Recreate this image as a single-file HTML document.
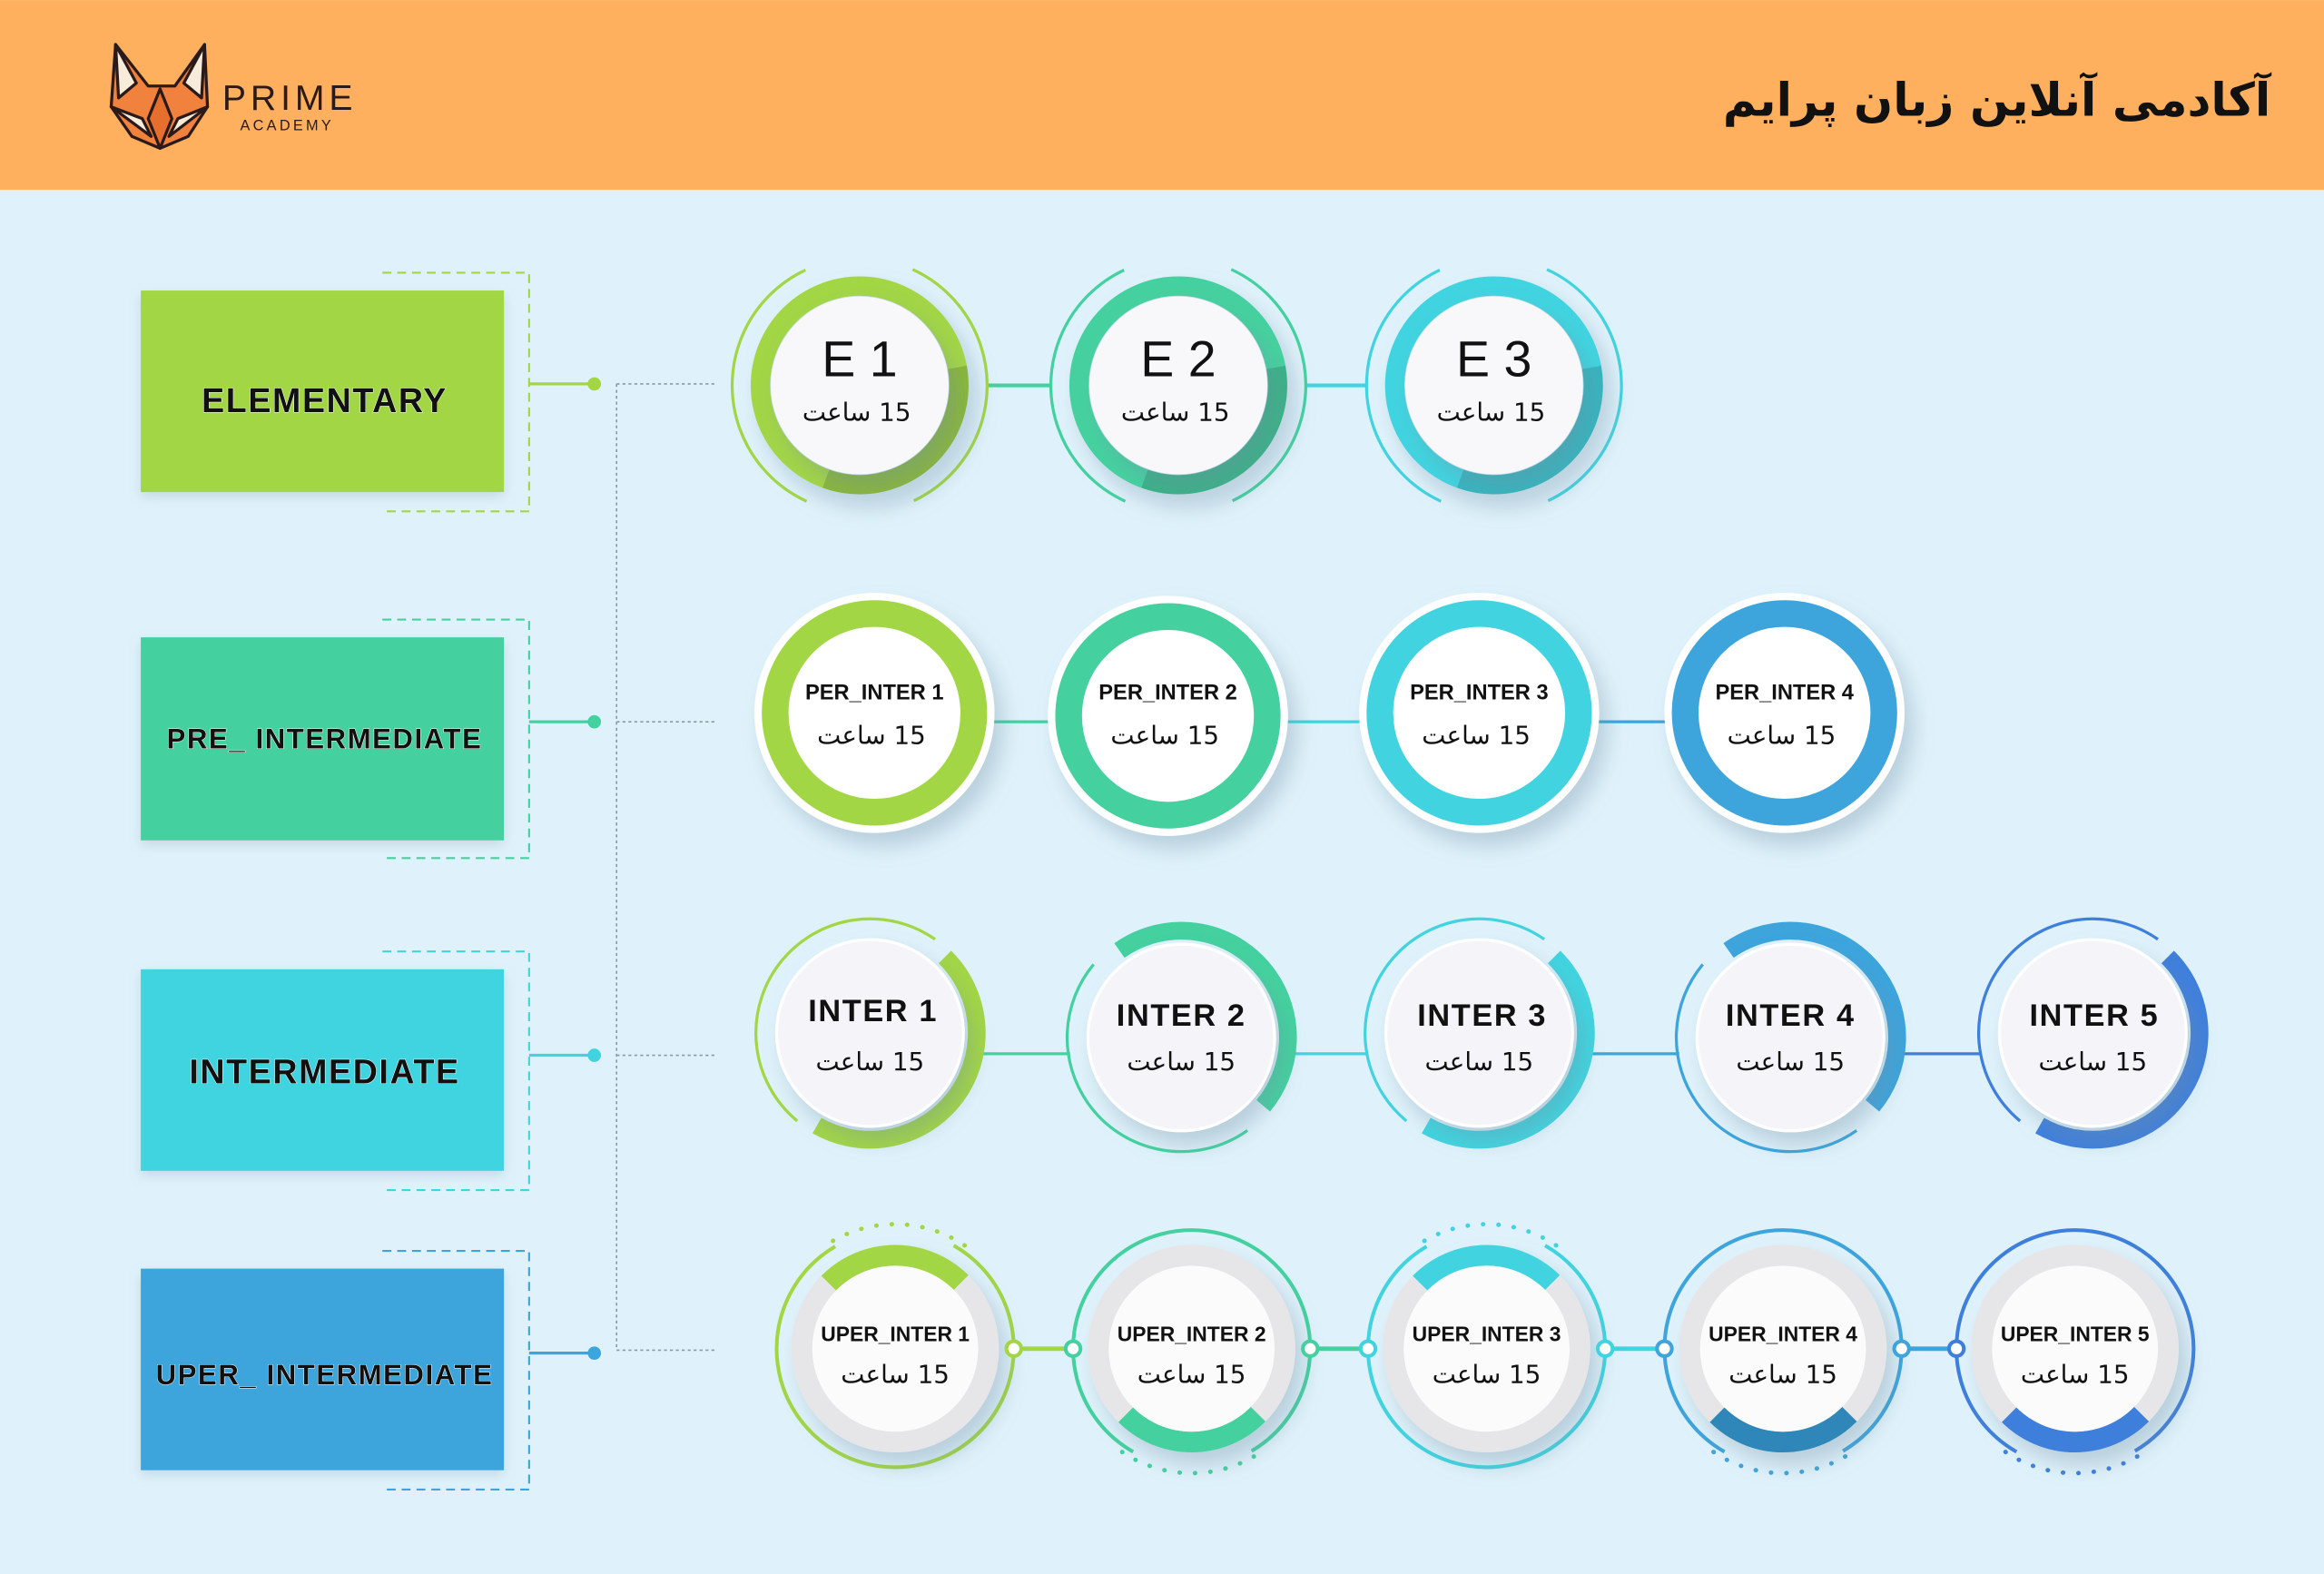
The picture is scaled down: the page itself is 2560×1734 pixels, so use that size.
<!DOCTYPE html>
<html><head><meta charset="utf-8"><style>
html,body{margin:0;padding:0;background:#dff2fb;}
svg{display:block}
text{font-family:"Liberation Sans","DejaVu Sans",sans-serif;fill:#111}
.h{font-family:"DejaVu Sans","Liberation Sans",sans-serif;font-size:17px;text-anchor:middle}
.t{font-weight:bold;text-anchor:middle}
.bx{font-weight:bold;font-size:23px;text-anchor:middle;letter-spacing:1px;stroke:#fff;stroke-width:.6px;paint-order:stroke}
</style></head><body>
<svg width="2560" height="1734" viewBox="0 0 1568 1062" xmlns="http://www.w3.org/2000/svg">
<defs>
<filter id="sh" x="-40%" y="-40%" width="180%" height="180%"><feDropShadow dx="6" dy="9" stdDeviation="7" flood-color="#6d8ea3" flood-opacity="0.35"/></filter>
<filter id="sb" x="-10%" y="-10%" width="120%" height="130%"><feDropShadow dx="0" dy="3" stdDeviation="4" flood-color="#6d8ea3" flood-opacity="0.25"/></filter>
</defs>
<rect width="1568" height="1062" fill="#dff2fb"/>
<rect width="1568" height="128" fill="#ffb05e"/>
<g stroke="#2a1a1a" stroke-width="2" stroke-linejoin="round">
<polygon points="78,30 100,58 118,58 138,30 140,72 127,92 108,100 89,92 75,72" fill="#f0823e"/>
<polygon points="78,30 92,56 80,66" fill="#f6ecd9"/>
<polygon points="138,30 124,56 136,66" fill="#f6ecd9"/>
<polygon points="75,72 96,80 102,92" fill="#f6ecd9"/>
<polygon points="140,72 120,80 114,92" fill="#f6ecd9"/>
<polygon points="100,80 108,100 116,80 108,60" fill="#e76f2e"/>
</g>
<text x="150" y="74" style="font-size:24px;letter-spacing:3px;fill:#2a1a1a">PRIME</text>
<text x="162" y="88" style="font-size:10px;letter-spacing:2px;fill:#2a1a1a">ACADEMY</text>
<text x="1532" y="78" style="font-family:'DejaVu Sans',sans-serif;font-weight:bold;font-size:31px;text-anchor:end;fill:#111">آکادمی آنلاین زبان پرایم</text>

<g filter="url(#sb)">
<rect x="95" y="196" width="245" height="136" fill="#a2d645"/>
<rect x="95" y="430" width="245" height="137" fill="#44d19f"/>
<rect x="95" y="654" width="245" height="136" fill="#41d4e0"/>
<rect x="95" y="856" width="245" height="136" fill="#3da4dc"/>
</g>
<text class="bx" x="219" y="278">ELEMENTARY</text>
<text class="bx" x="219" y="505" style="font-size:19px">PRE_ INTERMEDIATE</text>
<text class="bx" x="219" y="731">INTERMEDIATE</text>
<text class="bx" x="219" y="934" style="font-size:19px">UPER_ INTERMEDIATE</text>
<g fill="none" stroke-width="1.3" stroke-dasharray="6 4">
<path d="M258 184H357V345H258" stroke="#a2d645"/>
<path d="M258 418H357V579H258" stroke="#44d19f"/>
<path d="M258 642H357V803H258" stroke="#41d4e0"/>
<path d="M258 844H357V1005H258" stroke="#3da4dc"/>
</g>
<g stroke-width="2">
<line x1="357" y1="259" x2="401" y2="259" stroke="#a2d645"/><circle cx="401" cy="259" r="4.5" fill="#a2d645"/>
<line x1="357" y1="487" x2="401" y2="487" stroke="#44d19f"/><circle cx="401" cy="487" r="4.5" fill="#44d19f"/>
<line x1="357" y1="712" x2="401" y2="712" stroke="#41d4e0"/><circle cx="401" cy="712" r="4.5" fill="#41d4e0"/>
<line x1="357" y1="913" x2="401" y2="913" stroke="#3da4dc"/><circle cx="401" cy="913" r="4.5" fill="#3da4dc"/>
</g>
<g stroke="#8a9aa6" stroke-width="1" stroke-dasharray="2 2" fill="none">
<path d="M416 259V911"/><path d="M416 259H483M416 487H483M416 712H483M416 911H483"/>
</g>

<g stroke-width="2.5"><line x1="667" y1="260" x2="709" y2="260" stroke="#44d19f"/><line x1="881" y1="260" x2="922" y2="260" stroke="#41d4e0"/></g>
<g fill="none">
<g stroke="#a2d645"><circle cx="580" cy="260" r="86" pathLength="360" stroke-width="2" stroke-dasharray="130 230" transform="rotate(115 580 260)"/><circle cx="580" cy="260" r="86" pathLength="360" stroke-width="2" stroke-dasharray="130 230" transform="rotate(295 580 260)"/><circle cx="580" cy="260" r="67" stroke-width="13" filter="url(#sh)"/></g>
<circle cx="580" cy="260" r="67" stroke="#000" stroke-opacity=".15" stroke-width="13" pathLength="360" stroke-dasharray="120 240" transform="rotate(-10 580 260)"/>
<g stroke="#44d19f"><circle cx="795" cy="260" r="86" pathLength="360" stroke-width="2" stroke-dasharray="130 230" transform="rotate(115 795 260)"/><circle cx="795" cy="260" r="86" pathLength="360" stroke-width="2" stroke-dasharray="130 230" transform="rotate(295 795 260)"/><circle cx="795" cy="260" r="67" stroke-width="13" filter="url(#sh)"/></g>
<circle cx="795" cy="260" r="67" stroke="#000" stroke-opacity=".15" stroke-width="13" pathLength="360" stroke-dasharray="120 240" transform="rotate(-10 795 260)"/>
<g stroke="#41d4e0"><circle cx="1008" cy="260" r="86" pathLength="360" stroke-width="2" stroke-dasharray="130 230" transform="rotate(115 1008 260)"/><circle cx="1008" cy="260" r="86" pathLength="360" stroke-width="2" stroke-dasharray="130 230" transform="rotate(295 1008 260)"/><circle cx="1008" cy="260" r="67" stroke-width="13" filter="url(#sh)"/></g>
<circle cx="1008" cy="260" r="67" stroke="#000" stroke-opacity=".15" stroke-width="13" pathLength="360" stroke-dasharray="120 240" transform="rotate(-10 1008 260)"/>
</g>
<g fill="#f8f8fa" filter="url(#sh)"><circle cx="580" cy="260" r="60"/><circle cx="795" cy="260" r="60"/><circle cx="1008" cy="260" r="60"/></g>
<text class="t" x="580" y="254" style="font-size:34px;font-weight:normal">E 1</text><text class="t" x="795" y="254" style="font-size:34px;font-weight:normal">E 2</text><text class="t" x="1008" y="254" style="font-size:34px;font-weight:normal">E 3</text>
<text class="h" x="578" y="284">ساعت &#x200E;15</text><text class="h" x="793" y="284">ساعت &#x200E;15</text><text class="h" x="1006" y="284">ساعت &#x200E;15</text>

<g stroke-width="2"><line x1="670" y1="487" x2="707" y2="487" stroke="#44d19f"/><line x1="868" y1="487" x2="918" y2="487" stroke="#41d4e0"/><line x1="1078" y1="487" x2="1124" y2="487" stroke="#3da4dc"/></g>
<g fill="#fff" filter="url(#sh)"><circle cx="590" cy="481" r="81"/><circle cx="788" cy="483" r="81"/><circle cx="998" cy="481" r="81"/><circle cx="1204" cy="481" r="81"/></g>
<g fill="#fff" stroke-width="18"><circle cx="590" cy="481" r="67" stroke="#a2d645"/><circle cx="788" cy="483" r="67" stroke="#44d19f"/><circle cx="998" cy="481" r="67" stroke="#41d4e0"/><circle cx="1204" cy="481" r="67" stroke="#3da4dc"/></g>
<text class="t" x="590" y="472" style="font-size:14.5px">PER_INTER 1</text><text class="t" x="788" y="472" style="font-size:14.5px">PER_INTER 2</text><text class="t" x="998" y="472" style="font-size:14.5px">PER_INTER 3</text><text class="t" x="1204" y="472" style="font-size:14.5px">PER_INTER 4</text>
<text class="h" x="588" y="502">ساعت &#x200E;15</text><text class="h" x="786" y="502">ساعت &#x200E;15</text><text class="h" x="996" y="502">ساعت &#x200E;15</text><text class="h" x="1202" y="502">ساعت &#x200E;15</text>

<g stroke-width="2"><line x1="660" y1="711" x2="722" y2="711" stroke="#44d19f"/><line x1="870" y1="711" x2="923" y2="711" stroke="#41d4e0"/><line x1="1072" y1="711" x2="1133" y2="711" stroke="#3da4dc"/><line x1="1282" y1="711" x2="1337" y2="711" stroke="#3f7fdc"/></g>
<g fill="none">
<circle cx="587" cy="697" r="72" stroke="#a2d645" stroke-width="12" pathLength="360" stroke-dasharray="165 195" transform="rotate(315 587 697)"/>
<circle cx="587" cy="697" r="77" stroke="#a2d645" stroke-width="2" pathLength="360" stroke-dasharray="175 185" transform="rotate(130 587 697)"/>
<circle cx="797" cy="700" r="72" stroke="#44d19f" stroke-width="12" pathLength="360" stroke-dasharray="165 195" transform="rotate(235 797 700)"/>
<circle cx="797" cy="700" r="77" stroke="#44d19f" stroke-width="2" pathLength="360" stroke-dasharray="165 195" transform="rotate(55 797 700)"/>
<circle cx="998" cy="697" r="72" stroke="#41d4e0" stroke-width="12" pathLength="360" stroke-dasharray="165 195" transform="rotate(315 998 697)"/>
<circle cx="998" cy="697" r="77" stroke="#41d4e0" stroke-width="2" pathLength="360" stroke-dasharray="175 185" transform="rotate(130 998 697)"/>
<circle cx="1208" cy="700" r="72" stroke="#3da4dc" stroke-width="12" pathLength="360" stroke-dasharray="165 195" transform="rotate(235 1208 700)"/>
<circle cx="1208" cy="700" r="77" stroke="#3da4dc" stroke-width="2" pathLength="360" stroke-dasharray="165 195" transform="rotate(55 1208 700)"/>
<circle cx="1412" cy="697" r="72" stroke="#3f7fdc" stroke-width="12" pathLength="360" stroke-dasharray="165 195" transform="rotate(315 1412 697)"/>
<circle cx="1412" cy="697" r="77" stroke="#3f7fdc" stroke-width="2" pathLength="360" stroke-dasharray="175 185" transform="rotate(130 1412 697)"/>
</g>
<g fill="#f4f4f9" stroke="#fff" stroke-width="2" filter="url(#sh)"><circle cx="587" cy="697" r="63"/><circle cx="797" cy="700" r="63"/><circle cx="998" cy="697" r="63"/><circle cx="1208" cy="700" r="63"/><circle cx="1412" cy="697" r="63"/></g>
<text class="t" x="589" y="689" style="font-size:21px;letter-spacing:1px">INTER 1</text><text class="t" x="797" y="692" style="font-size:21px;letter-spacing:1px">INTER 2</text><text class="t" x="1000" y="692" style="font-size:21px;letter-spacing:1px">INTER 3</text><text class="t" x="1208" y="692" style="font-size:21px;letter-spacing:1px">INTER 4</text><text class="t" x="1413" y="692" style="font-size:21px;letter-spacing:1px">INTER 5</text>
<text class="h" x="587" y="722">ساعت &#x200E;15</text><text class="h" x="797" y="722">ساعت &#x200E;15</text><text class="h" x="998" y="722">ساعت &#x200E;15</text><text class="h" x="1208" y="722">ساعت &#x200E;15</text><text class="h" x="1412" y="722">ساعت &#x200E;15</text>

<g stroke-width="3"><line x1="684" y1="910" x2="724" y2="910" stroke="#a2d645"/><line x1="884" y1="910" x2="923" y2="910" stroke="#44d19f"/><line x1="1083" y1="910" x2="1123" y2="910" stroke="#41d4e0"/><line x1="1283" y1="910" x2="1320" y2="910" stroke="#3da4dc"/></g>
<g fill="none">
<circle cx="604" cy="910" r="80" stroke="#a2d645" stroke-width="2.5" pathLength="360" stroke-dasharray="300 60" transform="rotate(300 604 910)"/>
<circle cx="604" cy="910" r="84" stroke="#a2d645" stroke-width="3" stroke-linecap="round" pathLength="360" transform="rotate(240 604 910)" style="stroke-dasharray:0.1 7 0.1 7 0.1 7 0.1 7 0.1 7 0.1 7 0.1 7 0.1 7 0.1 7 0.1 300"/>
<circle cx="804" cy="910" r="80" stroke="#44d19f" stroke-width="2.5" pathLength="360" stroke-dasharray="300 60" transform="rotate(120 804 910)"/>
<circle cx="804" cy="910" r="84" stroke="#44d19f" stroke-width="3" stroke-linecap="round" pathLength="360" transform="rotate(60 804 910)" style="stroke-dasharray:0.1 7 0.1 7 0.1 7 0.1 7 0.1 7 0.1 7 0.1 7 0.1 7 0.1 7 0.1 300"/>
<circle cx="1003" cy="910" r="80" stroke="#41d4e0" stroke-width="2.5" pathLength="360" stroke-dasharray="300 60" transform="rotate(300 1003 910)"/>
<circle cx="1003" cy="910" r="84" stroke="#41d4e0" stroke-width="3" stroke-linecap="round" pathLength="360" transform="rotate(240 1003 910)" style="stroke-dasharray:0.1 7 0.1 7 0.1 7 0.1 7 0.1 7 0.1 7 0.1 7 0.1 7 0.1 7 0.1 300"/>
<circle cx="1203" cy="910" r="80" stroke="#3da4dc" stroke-width="2.5" pathLength="360" stroke-dasharray="300 60" transform="rotate(120 1203 910)"/>
<circle cx="1203" cy="910" r="84" stroke="#3da4dc" stroke-width="3" stroke-linecap="round" pathLength="360" transform="rotate(60 1203 910)" style="stroke-dasharray:0.1 7 0.1 7 0.1 7 0.1 7 0.1 7 0.1 7 0.1 7 0.1 7 0.1 7 0.1 300"/>
<circle cx="1400" cy="910" r="80" stroke="#3f7fdc" stroke-width="2.5" pathLength="360" stroke-dasharray="300 60" transform="rotate(120 1400 910)"/>
<circle cx="1400" cy="910" r="84" stroke="#3f7fdc" stroke-width="3" stroke-linecap="round" pathLength="360" transform="rotate(60 1400 910)" style="stroke-dasharray:0.1 7 0.1 7 0.1 7 0.1 7 0.1 7 0.1 7 0.1 7 0.1 7 0.1 7 0.1 300"/>
</g>
<g fill="#e6e6e8" filter="url(#sh)"><circle cx="604" cy="910" r="70"/><circle cx="804" cy="910" r="70"/><circle cx="1003" cy="910" r="70"/><circle cx="1203" cy="910" r="70"/><circle cx="1400" cy="910" r="70"/></g>
<g fill="none" stroke-width="14">
<circle cx="604" cy="910" r="63" stroke="#a2d645" pathLength="360" stroke-dasharray="90 270" transform="rotate(225 604 910)"/>
<circle cx="804" cy="910" r="63" stroke="#44d19f" pathLength="360" stroke-dasharray="90 270" transform="rotate(45 804 910)"/>
<circle cx="1003" cy="910" r="63" stroke="#41d4e0" pathLength="360" stroke-dasharray="90 270" transform="rotate(225 1003 910)"/>
<circle cx="1203" cy="910" r="63" stroke="#2f86b8" pathLength="360" stroke-dasharray="90 270" transform="rotate(45 1203 910)"/>
<circle cx="1400" cy="910" r="63" stroke="#3f7fdc" pathLength="360" stroke-dasharray="90 270" transform="rotate(45 1400 910)"/>
</g>
<g fill="#fbfbfb"><circle cx="604" cy="910" r="56"/><circle cx="804" cy="910" r="56"/><circle cx="1003" cy="910" r="56"/><circle cx="1203" cy="910" r="56"/><circle cx="1400" cy="910" r="56"/></g>
<g fill="#fff" stroke-width="2.5">
<circle cx="684" cy="910" r="5" stroke="#a2d645"/><circle cx="724" cy="910" r="5" stroke="#44d19f"/>
<circle cx="884" cy="910" r="5" stroke="#44d19f"/><circle cx="923" cy="910" r="5" stroke="#41d4e0"/>
<circle cx="1083" cy="910" r="5" stroke="#41d4e0"/><circle cx="1123" cy="910" r="5" stroke="#3da4dc"/>
<circle cx="1283" cy="910" r="5" stroke="#3da4dc"/><circle cx="1320" cy="910" r="5" stroke="#3f7fdc"/>
</g>
<text class="t" x="604" y="905" style="font-size:14px">UPER_INTER 1</text><text class="t" x="804" y="905" style="font-size:14px">UPER_INTER 2</text><text class="t" x="1003" y="905" style="font-size:14px">UPER_INTER 3</text><text class="t" x="1203" y="905" style="font-size:14px">UPER_INTER 4</text><text class="t" x="1400" y="905" style="font-size:14px">UPER_INTER 5</text>
<text class="h" x="604" y="933">ساعت &#x200E;15</text><text class="h" x="804" y="933">ساعت &#x200E;15</text><text class="h" x="1003" y="933">ساعت &#x200E;15</text><text class="h" x="1203" y="933">ساعت &#x200E;15</text><text class="h" x="1400" y="933">ساعت &#x200E;15</text>
</svg>
</body></html>
